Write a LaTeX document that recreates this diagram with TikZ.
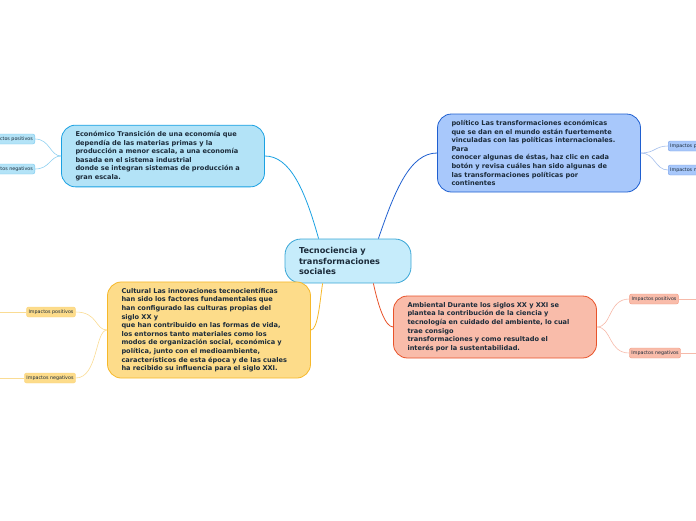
\documentclass[tikz,border=0pt]{standalone}
\usepackage{fontspec}
\setmainfont{DejaVu Sans}
\usetikzlibrary{positioning}
\definecolor{txt}{HTML}{1B2B3A}
\definecolor{cenfill}{HTML}{C6ECFB}\definecolor{cenline}{HTML}{3AA6D6}
\definecolor{ecofill}{HTML}{B3E3F7}\definecolor{ecoline}{HTML}{1BA1E2}
\definecolor{polfill}{HTML}{A8C8FB}\definecolor{polline}{HTML}{1F5FD0}
\definecolor{ambfill}{HTML}{F9BCAA}\definecolor{ambline}{HTML}{E8532A}
\definecolor{culfill}{HTML}{FDDC8A}\definecolor{culline}{HTML}{F6B82A}
\begin{document}
\begin{tikzpicture}[x=1pt, y=-1pt,
    topic/.style={rectangle, rounded corners=14pt, draw, thick, align=left,
                  text width=#1, inner xsep=14pt, inner ysep=6pt, font=\fontsize{6.6}{8.6}\selectfont\bfseries, text=txt},
    sub/.style={rectangle, rounded corners=2pt, draw, thin, inner sep=2pt,
                font=\fontsize{4.8}{6}\selectfont, text=txt, minimum height=10pt},
    link/.style={thick},
    twig/.style={semithick}
  ]
  \useasboundingbox (0,0) rectangle (696,520);
  \node[topic=98pt, fill=cenfill, draw=cenline, minimum width=126pt, minimum height=44pt,
        rounded corners=16pt, font=\fontsize{8.2}{10.5}\selectfont\bfseries] (core) at (348,261)
        {Tecnociencia y\\transformaciones\\sociales};
  \node[topic=175pt, fill=ecofill, draw=ecoline, minimum height=61pt] (eco) at (163,156)
        {Económico Transición de una economía que\\dependía de las materias primas y la\\producción a menor escala, a una economía\\basada en el sistema industrial\\donde se integran sistemas de producción a\\gran escala.};
  \node[topic=175pt, fill=polfill, draw=polline, minimum height=78pt] (pol) at (539,153)
        {político Las transformaciones económicas\\que se dan en el mundo están fuertemente\\vinculadas con las políticas internacionales.\\Para\\conocer algunas de éstas, haz clic en cada\\botón y revisa cuáles han sido algunas de\\las transformaciones políticas por\\continentes};
  \node[topic=175pt, fill=ambfill, draw=ambline, minimum height=62pt] (amb) at (495,327)
        {Ambiental Durante los siglos XX y XXI se\\plantea la contribución de la ciencia y\\tecnología en cuidado del ambiente, lo cual\\trae consigo\\transformaciones y como resultado el\\interés por la sustentabilidad.};
  \node[topic=175pt, fill=culfill, draw=culline, minimum height=96pt] (cul) at (209,330)
        {Cultural Las innovaciones tecnocientíficas\\han sido los factores fundamentales que\\han configurado las culturas propias del\\siglo XX y\\que han contribuido en las formas de vida,\\los entornos tanto materiales como los\\modos de organización social, económica y\\política, junto con el medioambiente,\\característicos de esta época y de las cuales\\ha recibido su influencia para el siglo XXI.};
  % small nodes
  \node[sub, fill=ecofill, draw=ecoline!60, anchor=east] (ecopos) at (35,139) {Impactos positivos};
  \node[sub, fill=ecofill, draw=ecoline!60, anchor=east] (econeg) at (35,169) {Impactos negativos};
  \node[sub, fill=polfill, draw=polline!60, anchor=west] (polpos) at (668,146) {Impactos positivos};
  \node[sub, fill=polfill, draw=polline!60, anchor=west] (polneg) at (668,170) {Impactos negativos};
  \node[sub, fill=ambfill, draw=ambline!60] (ambpos) at (654,299) {Impactos positivos};
  \node[sub, fill=ambfill, draw=ambline!60] (ambneg) at (655,353) {Impactos negativos};
  \node[sub, fill=culfill, draw=culline!60] (culpos) at (51,312) {Impactos positivos};
  \node[sub, fill=culfill, draw=culline!60] (culneg) at (50,378) {Impactos negativos};
  \coordinate (ambposend) at (696,299);
  \coordinate (ambnegend) at (696,353);
  \coordinate (culposend) at (0,312);
  \coordinate (culnegend) at (0,378);
  % main links
  \draw[link, ecoline] (core.north west) ++(34,0) .. controls (305,190) and (290,156) .. (eco.east);
  \draw[link, polline] (core.north east) ++(-33,0) .. controls (395,190) and (410,153) .. (pol.west);
  \draw[link, ambline] (core.south east) ++(-38,0) .. controls (378,305) and (385,327) .. (amb.west);
  \draw[link, culline] (core.south west) ++(38,0) .. controls (320,300) and (318,330) .. (cul.east);
  % twigs
  \draw[twig, ecoline!50] (eco.west) .. controls (50,156) and (50,139) .. (ecopos.east);
  \draw[twig, ecoline!50] (eco.west) .. controls (50,156) and (50,169) .. (econeg.east);
  \draw[twig, polline!40] (pol.east) .. controls (655,153) and (655,146) .. (polpos.west);
  \draw[twig, polline!40] (pol.east) .. controls (655,153) and (655,170) .. (polneg.west);
  \draw[twig, ambline!40] (amb.east) .. controls (612,327) and (608,299) .. (ambpos.west);
  \draw[twig, ambline!40] (amb.east) .. controls (612,327) and (608,353) .. (ambneg.west);
  \draw[twig, ambline!40] (ambpos.east) -- (ambposend);
  \draw[twig, ambline!40] (ambneg.east) -- (ambnegend);
  \draw[twig, culline!50] (cul.west) .. controls (95,330) and (98,312) .. (culpos.east);
  \draw[twig, culline!50] (cul.west) .. controls (95,330) and (98,378) .. (culneg.east);
  \draw[twig, culline!50] (culpos.west) -- (culposend);
  \draw[twig, culline!50] (culneg.west) -- (culnegend);
\end{tikzpicture}
\end{document}
